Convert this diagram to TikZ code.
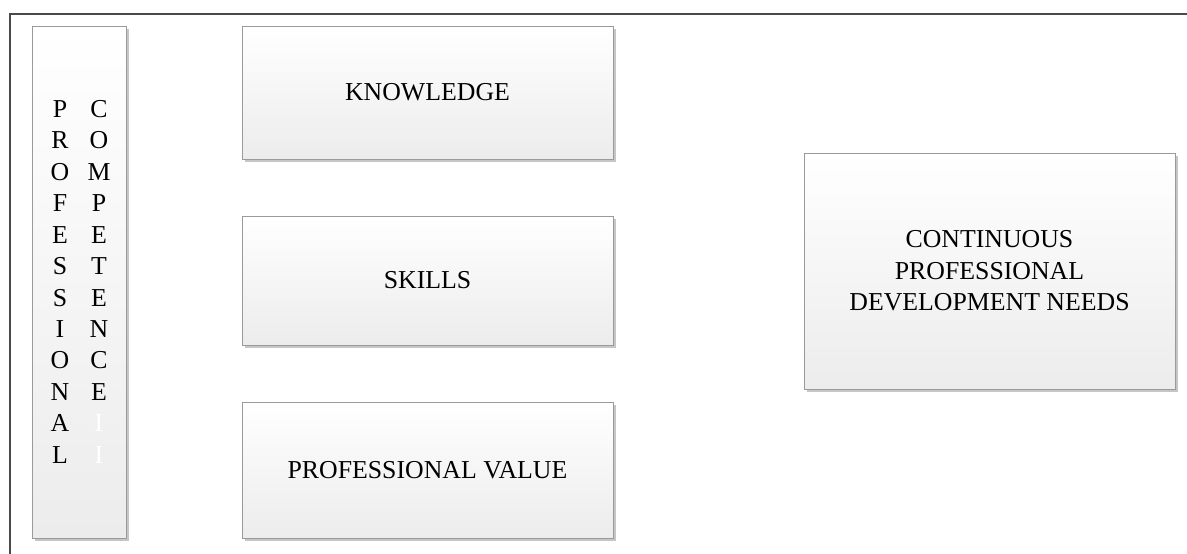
\documentclass[tikz,border=0pt]{standalone}
\usepackage{fontspec}
\setmainfont{Liberation Serif}
\usetikzlibrary{shadows}
\definecolor{boxline}{HTML}{9A9A9A}
\definecolor{boxbot}{HTML}{ECECEC}
\definecolor{shadowc}{HTML}{C6C6C6}
\definecolor{framec}{HTML}{4A4A4A}
\begin{document}
\begin{tikzpicture}[x=1pt,y=-1pt,
  box/.style={draw=boxline, line width=0.8pt, top color=white, bottom color=boxbot,
    drop shadow={shadow xshift=3pt, shadow yshift=-3pt, fill=shadowc, opacity=1},
    inner sep=0pt, font=\fontsize{25.8}{31.5}\selectfont, align=center},
  letter/.style={font=\fontsize{25.8}{31.5}\selectfont, anchor=base, inner sep=0pt},
  frameline/.style={draw=framec, line width=1.6pt}]
\useasboundingbox (0,0) rectangle (1187,554);
\coordinate (f1) at (10,554);
\coordinate (f2) at (10,14);
\coordinate (f3) at (1187,14);
\draw[frameline] (f1) -- (f2) -- (f3);

\node[box, minimum width=94pt, minimum height=512pt] (pc) at (79,282) {};
\foreach \ch [count=\i] in {P,R,O,F,E,S,S,I,O,N,A,L}
  \node[letter] (l\i) at (60,{117.3+31.45*(\i-1)}) {\ch};
\foreach \ch [count=\i] in {C,O,M,P,E,T,E,N,C,E}
  \node[letter] (r\i) at (99,{117.3+31.45*(\i-1)}) {\ch};
\node[letter, text=white] (r11) at (99,{117.3+31.45*10}) {I};
\node[letter, text=white] (r12) at (99,{117.3+31.45*11}) {I};

\node[box, minimum width=371pt, minimum height=133pt] (k) at (427.5,92.5) {KNOWLEDGE};
\node[box, minimum width=371pt, minimum height=129pt] (s) at (427.5,280.5) {SKILLS};
\node[box, minimum width=371pt, minimum height=136pt] (pv) at (427.5,470) {PROFESSIONAL VALUE};
\node[box, minimum width=371pt, minimum height=236pt] (cpd) at (989.5,271) {CONTINUOUS\\PROFESSIONAL\\DEVELOPMENT NEEDS};
\end{tikzpicture}
\end{document}
